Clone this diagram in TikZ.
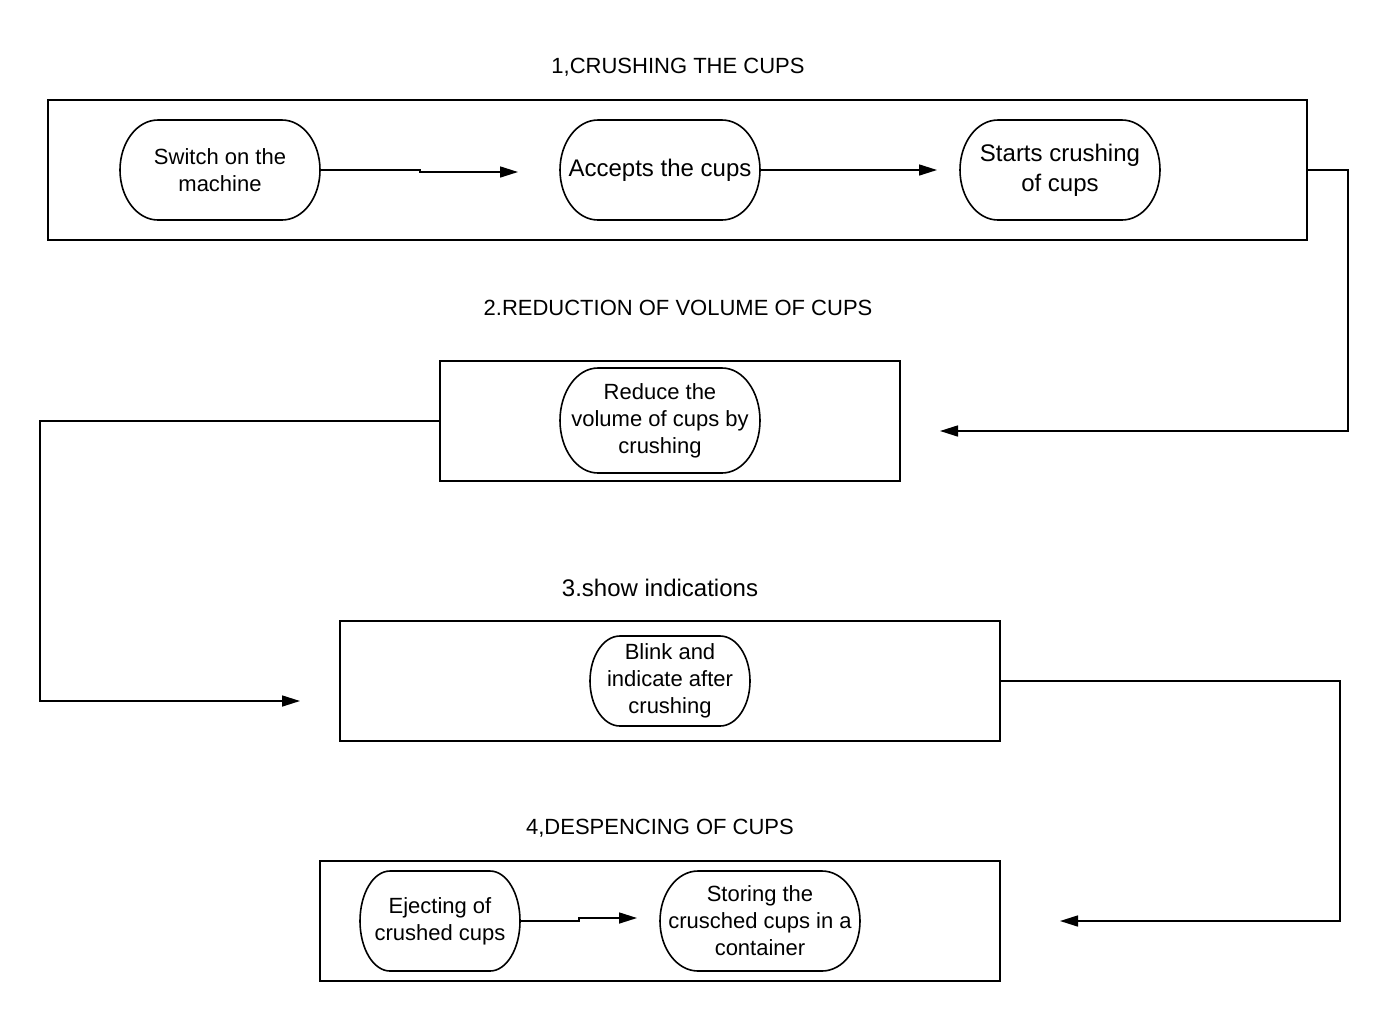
\documentclass[tikz,border=0pt]{standalone}
\usepackage{fontspec}
\setmainfont{Liberation Sans}
\usetikzlibrary{arrows.meta}
\newcommand\termshp[3]{%
  \draw[line width=1.6pt] ([xshift=#2]#1.north west) -- ([xshift=-#2]#1.north east)
    arc[start angle=90,end angle=-90,x radius=#2,y radius=#3]
    -- ([xshift=#2]#1.south west)
    arc[start angle=270,end angle=90,x radius=#2,y radius=#3] -- cycle;}
\begin{document}
\begin{tikzpicture}[x=1pt,y=-1pt,
  every node/.style={outer sep=0pt,inner sep=0pt},
  box/.style={draw,line width=1.6pt,rectangle},
  term/.style={align=center},
  fa/.style={font=\fontsize{22}{27}\selectfont},
  fb/.style={font=\fontsize{24}{30}\selectfont},
  conn/.style={line width=1.6pt},
  arr/.style={conn,-{Triangle[length=18pt,width=11pt]}},
]
\useasboundingbox (0,0) rectangle (1389,1021);

% titles
\node[fa] (t1) at (678,67) {1,CRUSHING THE CUPS};
\node[fa] (t2) at (678,308) {2.REDUCTION OF VOLUME OF CUPS};
\node[fb] (t3) at (660,588) {3.show indications};
\node[fa] (t4) at (660,828) {4,DESPENCING OF CUPS};

% boxes
\node[box,minimum width=1259pt,minimum height=140pt] (b1) at (677.5,170) {};
\node[box,minimum width=460pt,minimum height=120pt] (b2) at (670,421) {};
\node[box,minimum width=660pt,minimum height=120pt] (b3) at (670,681) {};
\node[box,minimum width=680pt,minimum height=120pt] (b4) at (660,921) {};

% process nodes
\node[term,fa,minimum width=200pt,minimum height=100pt] (sw) at (220,170) {Switch on the\\machine};
\termshp{sw}{38pt}{50pt}
\node[term,fb,minimum width=200pt,minimum height=100pt] (ac) at (660,170) {Accepts the cups};
\termshp{ac}{38pt}{50pt}
\node[term,fb,minimum width=200pt,minimum height=100pt] (st) at (1060,170) {Starts crushing\\of cups};
\termshp{st}{38pt}{50pt}
\node[term,fa,minimum width=200pt,minimum height=105pt] (rd) at (660,420.5) {Reduce the\\volume of cups by\\crushing};
\termshp{rd}{38pt}{52.5pt}
\node[term,fa,minimum width=160pt,minimum height=90pt] (bl) at (670,681) {Blink and\\indicate after\\crushing};
\termshp{bl}{30pt}{45pt}
\node[term,fa,minimum width=160pt,minimum height=100pt] (ej) at (440,921) {Ejecting of\\crushed cups};
\termshp{ej}{30pt}{50pt}
\node[term,fa,minimum width=200pt,minimum height=100pt] (sc) at (760,921) {Storing the\\crusched cups in a\\container};
\termshp{sc}{38pt}{50pt}

% free ends
\coordinate (a1) at (518,172);
\coordinate (a2) at (937,170);
\coordinate (c1) at (1348,431);
\coordinate (a3) at (940,431);
\coordinate (c2) at (40,701);
\coordinate (a4) at (300,701);
\coordinate (c3) at (1340,921);
\coordinate (a5) at (1060,921);
\coordinate (a6) at (637,918);

% connectors
\draw[arr] (sw.east) -- ++(100,0) -- ++(0,2) -- (a1);
\draw[arr] (ac.east) -- (a2);
\draw[arr] (b1.east) -| (c1) -- (a3);
\draw[arr] (b2.west) -| (c2) -- (a4);
\draw[arr] (b3.east) -| (c3) -- (a5);
\draw[arr] (ej.east) -- ++(59,0) -- ++(0,-3) -- (a6);
\end{tikzpicture}
\end{document}
